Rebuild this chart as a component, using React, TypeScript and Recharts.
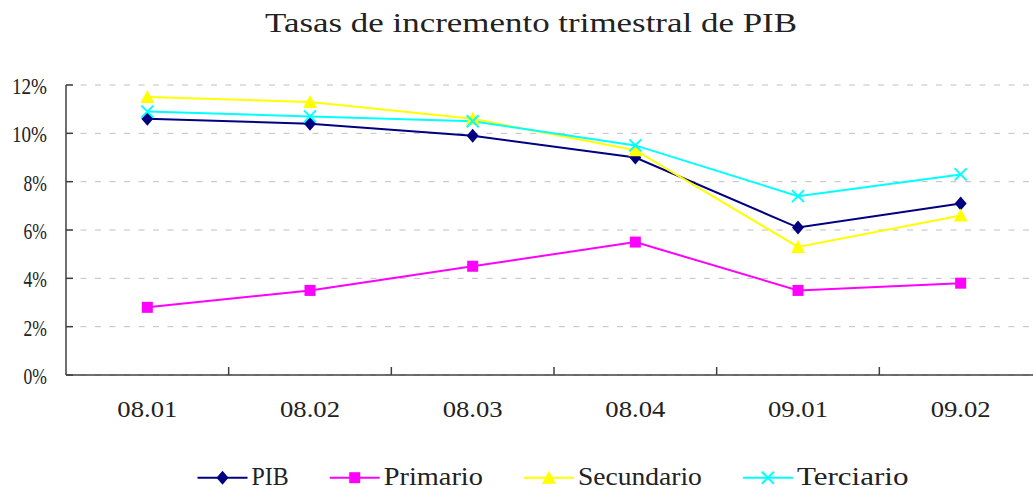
import React from 'react';
import { LineChart, Line, XAxis, YAxis, CartesianGrid, Legend } from 'recharts';

const categories = ['08.01', '08.02', '08.03', '08.04', '09.01', '09.02'];
const pib = [10.6, 10.4, 9.9, 9.0, 6.1, 7.1];
const primario = [2.8, 3.5, 4.5, 5.5, 3.5, 3.8];
const secundario = [11.5, 11.3, 10.6, 9.3, 5.3, 6.6];
const terciario = [10.9, 10.7, 10.5, 9.5, 7.4, 8.3];
const yTicks = [0, 2, 4, 6, 8, 10, 12];

const data = categories.map((c, i) => ({
  pos: i + 0.5,
  label: c,
  pib: pib[i],
  primario: primario[i],
  secundario: secundario[i],
  terciario: terciario[i],
}));

// label ticks at band centres, short inward marks at band edges
const xTicks: number[] = [];
categories.forEach((_, i) => {
  xTicks.push(i + 0.5);
  if (i < categories.length - 1) xTicks.push(i + 1);
});

const FONT = '"Liberation Serif", "DejaVu Serif", serif';
const AXIS = '#404040';
const TEXT = '#222';

const series = [
  { key: 'pib', name: 'PIB', color: '#000080', shape: 'diamond' },
  { key: 'primario', name: 'Primario', color: '#FF00FF', shape: 'square' },
  { key: 'secundario', name: 'Secundario', color: '#FFFF00', shape: 'triangle' },
  { key: 'terciario', name: 'Terciario', color: '#00FFFF', shape: 'cross' },
];

function Marker({ shape, cx, cy, color }: { shape: string; cx: number; cy: number; color: string }) {
  if (shape === 'diamond') {
    return <polygon points={`${cx},${cy - 7} ${cx + 6},${cy} ${cx},${cy + 7} ${cx - 6},${cy}`} fill={color} />;
  }
  if (shape === 'square') {
    return <rect x={cx - 5.5} y={cy - 5.5} width={11} height={11} fill={color} />;
  }
  if (shape === 'triangle') {
    return <polygon points={`${cx},${cy - 7} ${cx + 7},${cy + 6} ${cx - 7},${cy + 6}`} fill={color} />;
  }
  return (
    <g stroke={color} strokeWidth={2}>
      <line x1={cx - 6} y1={cy - 6} x2={cx + 6} y2={cy + 6} />
      <line x1={cx - 6} y1={cy + 6} x2={cx + 6} y2={cy - 6} />
    </g>
  );
}

const XTick = (props: any) => {
  const { x, y, payload } = props;
  const v = payload.value as number;
  if (Number.isInteger(v)) {
    return <line x1={x} y1={y} x2={x} y2={y - 8} stroke={AXIS} strokeWidth={1.5} />;
  }
  const label = categories[Math.floor(v)];
  return (
    <text x={x} y={y + 42} textAnchor="middle" fontFamily={FONT} fontSize={24} fill={TEXT} textLength={60} lengthAdjust="spacingAndGlyphs">
      {label}
    </text>
  );
};

const YTick = (props: any) => {
  const { x, y, payload } = props;
  const label = `${payload.value}%`;
  return (
    <g>
      <line x1={x} y1={y} x2={x + 7} y2={y} stroke={AXIS} strokeWidth={1.5} />
      <text x={x - 19} y={y + 9} textAnchor="end" fontFamily={FONT} fontSize={22.5} fill={TEXT} textLength={label.length * 11.7} lengthAdjust="spacingAndGlyphs">
        {label}
      </text>
    </g>
  );
};

const LegendContent = () => {
  const iconW = 50;
  const charW = 12.4;
  const gap = 41;
  const widths = series.map((s) => iconW + 4 + s.name.length * charW);
  const total = widths.reduce((a, b) => a + b, 0) + gap * (series.length - 1);
  let cursor = 553 - total / 2;
  return (
    <svg width={1050} height={32} style={{ display: 'block' }}>
      {series.map((s, i) => {
        const x0 = cursor;
        cursor += widths[i] + gap;
        return (
          <g key={s.key}>
            <line x1={x0} y1={16.7} x2={x0 + iconW} y2={16.7} stroke={s.color} strokeWidth={2} />
            <Marker shape={s.shape} cx={x0 + iconW / 2} cy={16.7} color={s.color} />
            <text x={x0 + iconW + 4} y={24} fontFamily={FONT} fontSize={25} fill={TEXT} textLength={s.name.length * charW} lengthAdjust="spacingAndGlyphs">
              {s.name}
            </text>
          </g>
        );
      })}
    </svg>
  );
};

export default function App() {
  return (
    <div style={{ position: 'fixed', left: 0, top: 0, width: 1033, height: 493, overflow: 'hidden', background: '#fff' }}>
      <svg width={1062} height={50} style={{ position: 'absolute', left: 0, top: 0, zIndex: 1 }}>
        <text x={531} y={32} textAnchor="middle" fontFamily={FONT} fontSize={28} fill={TEXT} textLength={532} lengthAdjust="spacingAndGlyphs">
          Tasas de incremento trimestral de PIB
        </text>
      </svg>
      <LineChart width={1050} height={493} data={data} margin={{ top: 85, right: 8, left: 0, bottom: 0 }}>
        <CartesianGrid vertical={false} stroke="#c0c0c0" strokeDasharray="6 8.5" />
        <XAxis
          dataKey="pos"
          type="number"
          domain={[0, 6]}
          ticks={xTicks}
          interval={0}
          tick={<XTick />}
          tickLine={false}
          tickSize={0}
          tickMargin={0}
          height={86}
          stroke={AXIS}
          strokeWidth={1.5}
        />
        <YAxis
          domain={[0, 12]}
          ticks={yTicks}
          interval={0}
          tick={<YTick />}
          tickLine={false}
          tickSize={0}
          tickMargin={0}
          width={66}
          stroke={AXIS}
          strokeWidth={1.5}
        />
        <Legend verticalAlign="bottom" content={<LegendContent />} wrapperStyle={{ left: 0, width: 1050 }} />
        {series.map((s) => (
          <Line
            key={s.key}
            dataKey={s.key}
            name={s.name}
            stroke={s.color}
            strokeWidth={2}
            isAnimationActive={false}
            dot={(p: any) => <Marker key={`${s.key}-${p.index}`} shape={s.shape} cx={p.cx} cy={p.cy} color={s.color} />}
            activeDot={false}
          />
        ))}
      </LineChart>
    </div>
  );
}
